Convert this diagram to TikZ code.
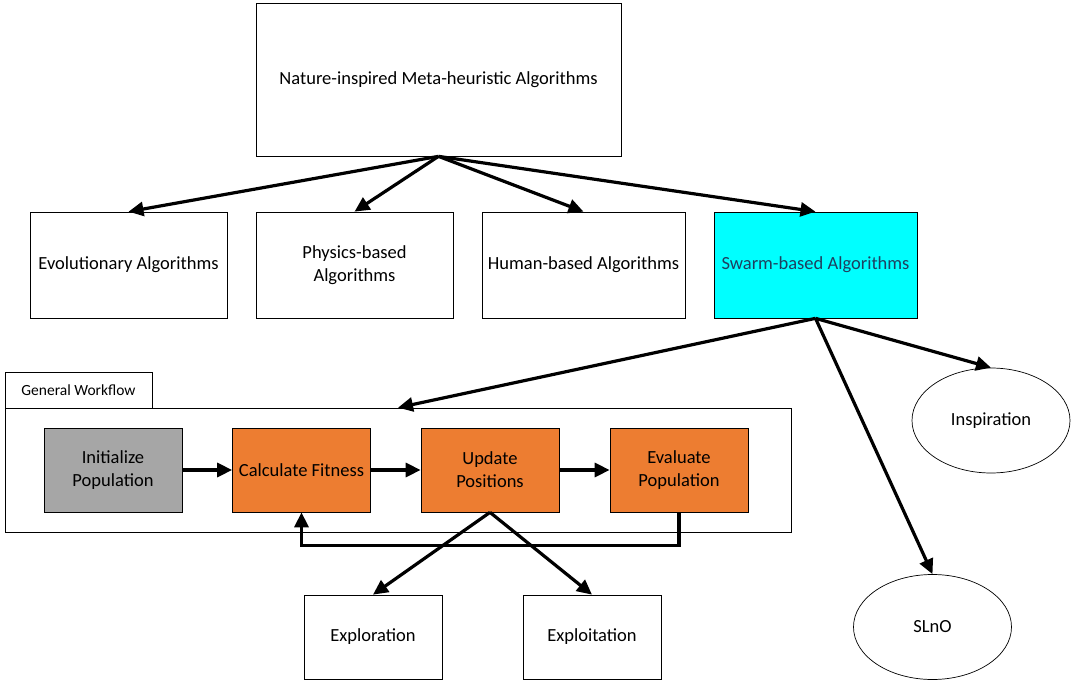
\documentclass[tikz,border=0pt]{standalone}
\usepackage{fontspec}
\setmainfont{Carlito}
\usepackage{tikz}
\usetikzlibrary{arrows.meta}
\usetikzlibrary{shapes.geometric}

\definecolor{swarmcyan}{HTML}{00FFFF}
\definecolor{steporange}{HTML}{ED7D31}
\definecolor{initgray}{HTML}{A6A6A6}
\definecolor{swarmtext}{HTML}{1F3F5F}

\begin{document}
\begin{tikzpicture}[x=1pt,y=-1pt,
    box/.style={draw,rectangle,line width=0.7pt,align=center,inner sep=0pt,
      font=\fontsize{18.5}{23}\selectfont},
    catbox/.style={box,minimum width=197,minimum height=106},
    wfbox/.style={box,minimum width=138,minimum height=84},
    oval/.style={draw,ellipse,line width=0.7pt,minimum width=158,minimum height=105,
      inner sep=0pt,font=\fontsize{18.5}{23}\selectfont},
    link/.style={line width=3.2pt,-{Triangle[length=15pt,width=14pt]}}]

    \useasboundingbox (0,0) rectangle (1077,687);

    \node[box,minimum width=365,minimum height=153]   (nat) at (438.5, 79.5)  {Nature-inspired Meta-heuristic Algorithms};

    \node[catbox]                            (evo)   at (128.5, 265)  {Evolutionary Algorithms};
    \node[catbox]                            (phys)  at (354.5, 265)  {Physics-based\\Algorithms};
    \node[catbox,minimum width=203]          (hum)   at (583.5, 265)  {Human-based Algorithms};
    \node[catbox,minimum width=203,fill=swarmcyan,text=swarmtext]
                                             (swarm) at (815.5, 265)  {Swarm-based Algorithms};

    \node[box,minimum width=786,minimum height=124] (wf) at (398, 470) {};
    \node[box,minimum width=147,minimum height=36,font=\fontsize{15.5}{18}\selectfont]
                                             (wftab) at (78.5, 390)   {General Workflow};

    \node[wfbox,fill=initgray]               (init)  at (113, 470)    {Initialize\\Population};
    \node[wfbox,fill=steporange]             (calc)  at (301.5, 470)  {Calculate Fitness};
    \node[wfbox,fill=steporange]             (upd)   at (490, 470)    {Update\\Positions};
    \node[wfbox,fill=steporange]             (eval)  at (679, 470)    {Evaluate\\Population};

    \node[wfbox]                             (explo) at (373, 637)    {Exploration};
    \node[wfbox]                             (explt) at (592, 637)    {Exploitation};

    \node[oval]                              (insp)  at (991, 420.5)  {Inspiration};
    \node[oval]                              (slno)  at (932.5, 627)  {SLnO};

    \draw (nat.south) edge[link] (evo.north);
    \draw (nat.south) edge[link] (phys.north);
    \draw (nat.south) edge[link] (hum.north);
    \draw (nat.south) edge[link] (swarm.north);

    \draw (swarm.south) edge[link] (wf.north);
    \draw (swarm.south) edge[link] (insp.north);
    \draw (swarm.south) edge[link] (slno.north);

    \draw (init) edge[link] (calc);
    \draw (calc) edge[link] (upd);
    \draw (upd)  edge[link] (eval);
    \draw[link] (eval.south) -- ++(0,33) -| (calc.south);

    \draw (upd.south) edge[link] (explo.north);
    \draw (upd.south) edge[link] (explt.north);
  \end{tikzpicture}
\end{document}
